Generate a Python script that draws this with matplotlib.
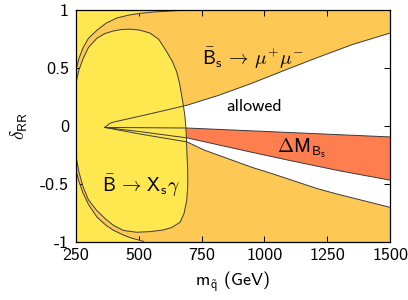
''' Constraints on delta_RR versus squark mass'''

import matplotlib
matplotlib.use('Agg')
import matplotlib.pyplot as plt

# outer curve of the b -> s gamma ring (upper and lower half)
ring_up_x = [250, 262, 278, 300, 334, 370, 413, 460, 505, 560, 624, 700]
ring_up_y = [0.48, 0.58, 0.67, 0.755, 0.825, 0.885, 0.93, 0.955, 0.97, 0.982, 0.99, 1.0]
ring_lo_x = [250, 262, 278, 300, 334, 370, 397, 440, 470, 505, 520]
ring_lo_y = [-0.385, -0.48, -0.58, -0.68, -0.79, -0.86, -0.90, -0.945, -0.97, -0.99, -1.0]

# inner excluded blob of b -> s gamma
blob_x = [250, 262, 279, 300, 334, 365, 397, 430, 465, 505, 545, 580, 611, 635, 651,
          662, 671, 678, 684, 687, 690, 692, 695, 695, 691, 680, 664, 630, 598,
          545, 491, 440, 399, 365, 332, 300, 279, 262, 250]
blob_y = [0.37, 0.48, 0.58, 0.675, 0.756, 0.795, 0.817, 0.83, 0.834, 0.825, 0.80, 0.745,
          0.64, 0.55, 0.465, 0.37, 0.26, 0.17, 0.08, 0.0, -0.12, -0.25, -0.39, -0.52,
          -0.645, -0.76, -0.835, -0.88, -0.90, -0.915, -0.92, -0.905, -0.86, -0.80,
          -0.73, -0.64, -0.53, -0.40, -0.255]

# Bs -> mu mu allowed wedge
up_x = [365, 385, 397, 500, 600, 692, 815, 951, 1082, 1213, 1349, 1500]
up_y = [-0.015, 0.02, 0.03, 0.08, 0.13, 0.177, 0.26, 0.367, 0.48, 0.59, 0.70, 0.80]
lo_x = [365, 500, 692, 760, 951, 1025, 1213, 1289, 1500]
lo_y = [-0.015, -0.07, -0.14, -0.21, -0.36, -0.41, -0.545, -0.59, -0.705]

# Delta M_Bs excluded band
dm_top_x = [365, 692, 1500]
dm_top_y = [-0.015, -0.02, -0.097]
dm_bot_x = [365, 500, 692, 951, 1100, 1300, 1500]
dm_bot_y = [-0.015, -0.05, -0.105, -0.23, -0.30, -0.39, -0.47]

xticks = [250, 500, 750, 1000, 1250, 1500]
yticks = [-1, -0.5, 0, 0.5, 1]
ytick_labels = ['-1', '-0.5', '0', '0.5', '1']

yellow = '#FFE84F'
orange = '#FEC854'
red = '#FF7E50'
edge = '#3a3a3a'

plt.rcParams['font.family'] = ['cmss10', 'DejaVu Sans']
plt.rcParams['mathtext.fontset'] = 'cm'
plt.rcParams['axes.unicode_minus'] = False
plt.rcParams['axes.formatter.use_mathtext'] = True

fig = plt.figure(figsize=(4.08, 3.0), dpi=100)
ax = fig.add_axes([0.186, 0.195, 0.77, 0.772])
ax.set_facecolor(orange)

# allowed wedge and Delta M band
ax.fill(up_x + lo_x[::-1], up_y + lo_y[::-1], color='white', lw=0, zorder=1)
ax.fill(dm_top_x + dm_bot_x[::-1], dm_top_y + dm_bot_y[::-1], color=red, lw=0, zorder=2)

# b -> s gamma excluded corners and blob
ax.fill([200] + ring_up_x + [200], [ring_up_y[0]] + ring_up_y + [1.1], color=yellow, lw=0, zorder=3)
ax.fill([200] + ring_lo_x + [200], [ring_lo_y[0]] + ring_lo_y + [-1.1], color=yellow, lw=0, zorder=3)
ax.fill([200] + blob_x + [200], [blob_y[-1]] + blob_y + [blob_y[0]], color=yellow, lw=0, zorder=3)

# boundary lines
for xs, ys in [(ring_up_x, ring_up_y), (ring_lo_x, ring_lo_y), (blob_x, blob_y),
               (up_x, up_y), (lo_x, lo_y), (dm_top_x, dm_top_y), (dm_bot_x, dm_bot_y)]:
    ax.plot(xs, ys, color=edge, lw=0.7, zorder=4)

# labels in the regions
ax.text(750, 0.58, r'$\bar{\mathsf{B}}_{\mathsf{s}} \,\to\, \mu^{+}\mu^{-}$', fontsize=14,
        va='center', ha='left', zorder=5)
ax.text(960, 0.17, 'allowed', fontsize=13, va='center', ha='center', zorder=5)
ax.text(1052, -0.19, r'$\Delta\mathsf{M}_{\mathsf{B}_{\mathsf{s}}}$', fontsize=14,
        va='center', ha='left', zorder=5)
ax.text(352, -0.52, r'$\bar{\mathsf{B}} \,\to\, \mathsf{X}_{\mathsf{s}}\gamma$', fontsize=14,
        va='center', ha='left', zorder=5)

ax.set_xlim(250, 1500)
ax.set_ylim(-1, 1)
ax.set_xticks(xticks)
ax.set_xticklabels([str(t) for t in xticks])
ax.set_yticks(yticks)
ax.set_yticklabels(ytick_labels)
ax.tick_params(direction='in', length=4.5, width=0.7, labelsize=13,
               top=True, right=True, pad=5)
for s in ax.spines.values():
    s.set_linewidth(0.9)
    s.set_zorder(6)

ax.set_xlabel(r'$\mathsf{m}_{\tilde{\mathsf{q}}}$ (GeV)', fontsize=13, labelpad=4)
ax.set_ylabel(r'$\delta_{\mathsf{RR}}$', fontsize=14, labelpad=7)

fig.savefig('out.png', dpi=100)
